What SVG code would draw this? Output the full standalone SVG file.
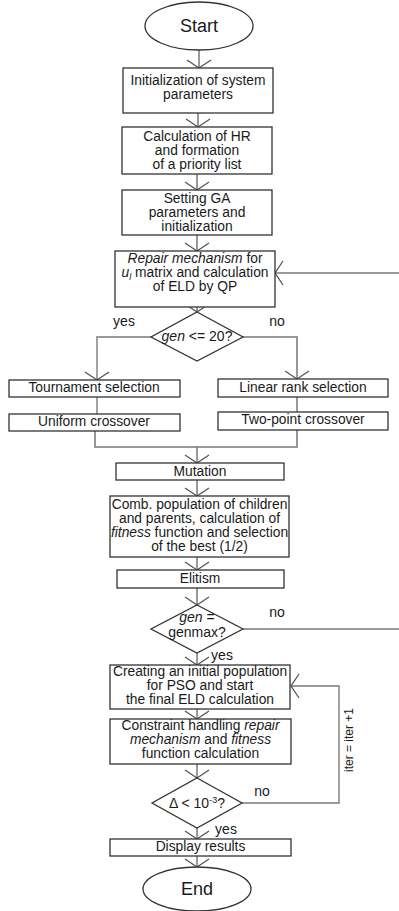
<svg xmlns="http://www.w3.org/2000/svg" width="399" height="911" viewBox="0 0 399 911">
<defs>
<marker id="arr" markerUnits="userSpaceOnUse" viewBox="-15 -15 30 30" markerWidth="30" markerHeight="30" refX="0" refY="0" orient="auto" overflow="visible">
<path d="M-8,-12 L0,0 L-8,12" fill="none" stroke="#555" stroke-width="1.3"/>
</marker>
<style>
.box{fill:#fff;stroke:#333;stroke-width:1.3}
.t{font-family:"Liberation Sans",Arial,sans-serif;font-size:13.8px;fill:#1a1a1a;text-anchor:middle}
.lb{font-family:"Liberation Sans",Arial,sans-serif;font-size:14px;fill:#1a1a1a;text-anchor:middle}
.big{font-family:"Liberation Sans",Arial,sans-serif;font-size:18px;fill:#1a1a1a;text-anchor:middle}
.c{fill:none;stroke:#777;stroke-width:1.5}
.cl{fill:none;stroke:#999;stroke-width:1.8}
.i{font-style:italic}
</style>
</defs>
<rect width="399" height="911" fill="#fff"/>
<g id="connectors">
<line class="c" x1="199" y1="50" x2="199" y2="68" marker-end="url(#arr)"/>
<line class="c" x1="198" y1="113" x2="198" y2="127" marker-end="url(#arr)"/>
<line class="c" x1="197" y1="174" x2="197" y2="190" marker-end="url(#arr)"/>
<line class="c" x1="197" y1="235" x2="197" y2="251" marker-end="url(#arr)"/>
<line class="c" x1="399" y1="273" x2="275" y2="273" marker-end="url(#arr)"/>
<line class="c" x1="197" y1="307" x2="197" y2="312" marker-end="url(#arr)"/>
<polyline class="cl" points="151,337 97,337 97,380" marker-end="url(#arr)"/>
<polyline class="c" points="243,337 297,337 297,379" marker-end="url(#arr)"/>
<line class="cl" x1="97" y1="397" x2="97" y2="414"/>
<line class="c" x1="297" y1="397" x2="297" y2="412"/>
<polyline class="c" points="95,431 95,447 297,447 297,430"/>
<line class="c" x1="197" y1="447" x2="197" y2="463" marker-end="url(#arr)"/>
<line class="c" x1="197" y1="480" x2="197" y2="496" marker-end="url(#arr)"/>
<line class="c" x1="197" y1="557" x2="197" y2="570" marker-end="url(#arr)"/>
<line class="c" x1="197" y1="588" x2="197" y2="605" marker-end="url(#arr)"/>
<line class="c" x1="243" y1="629" x2="399" y2="629"/>
<line class="c" x1="197" y1="653" x2="197" y2="665" marker-end="url(#arr)"/>
<line class="c" x1="197" y1="709" x2="197" y2="719" marker-end="url(#arr)"/>
<line class="c" x1="197" y1="764" x2="197" y2="778" marker-end="url(#arr)"/>
<polyline class="cl" points="242,803 339,803 339,686 291,686" marker-end="url(#arr)"/>
<line class="c" x1="197" y1="828" x2="197" y2="839" marker-end="url(#arr)"/>
<line class="c" x1="197" y1="856" x2="197" y2="867" marker-end="url(#arr)"/>
</g>
<g id="labels">
<text class="lb" x="124" y="326">yes</text>
<text class="lb" x="277" y="326">no</text>
<text class="lb" x="277" y="617">no</text>
<text class="lb" x="222" y="660">yes</text>
<text class="lb" x="262" y="796">no</text>
<text class="lb" x="226" y="834">yes</text>
<text class="lb" style="font-size:12px" transform="translate(353,740) rotate(-90)">iter = iter +1</text>
</g>
<g id="start"><ellipse class="box" cx="199" cy="26" rx="54" ry="24"/><text class="big" x="199" y="32">Start</text></g>
<g id="init"><rect class="box" x="123" y="68" width="150" height="45"/><text class="t" x="198" y="85">Initialization of system</text><text class="t" x="198" y="99">parameters</text></g>
<g id="calc"><rect class="box" x="122" y="127" width="150" height="47"/><text class="t" x="197" y="141">Calculation of HR</text><text class="t" x="197" y="155">and formation</text><text class="t" x="197" y="169">of a priority list</text></g>
<g id="setga"><rect class="box" x="122" y="190" width="150" height="45"/><text class="t" x="197" y="203">Setting GA</text><text class="t" x="197" y="217">parameters and</text><text class="t" x="197" y="231">initialization</text></g>
<g id="repair"><rect class="box" x="115" y="251" width="160" height="56"/><text class="t" x="195" y="263"><tspan class="i">Repair mechanism</tspan> for</text><text class="t" x="195" y="277"><tspan class="i">u</tspan><tspan class="i" font-size="9" dy="3">l</tspan><tspan dy="-3"> matrix and calculation</tspan></text><text class="t" x="195" y="291">of ELD by QP</text></g>
<g id="dec1"><polygon class="box" points="197,312 243,337 197,361 151,337"/><text class="lb" x="197" y="341"><tspan class="i">gen</tspan> &lt;= 20?</text></g>
<g id="tourn"><rect class="box" x="9" y="380" width="171" height="17"/><text class="t" x="94" y="392">Tournament selection</text></g>
<g id="linear"><rect class="box" x="218" y="379" width="170" height="18"/><text class="t" x="303" y="392">Linear rank selection</text></g>
<g id="uniform"><rect class="box" x="9" y="414" width="171" height="17"/><text class="t" x="94" y="426">Uniform crossover</text></g>
<g id="twopoint"><rect class="box" x="218" y="412" width="170" height="18"/><text class="t" x="303" y="424">Two-point crossover</text></g>
<g id="mutation"><rect class="box" x="116" y="463" width="168" height="17"/><text class="t" x="200" y="476">Mutation</text></g>
<g id="comb"><rect class="box" x="110" y="496" width="179" height="61"/><text class="t" x="199.5" y="509">Comb. population of children</text><text class="t" x="199.5" y="523">and parents, calculation of</text><text class="t" x="199.5" y="537"><tspan class="i">fitness</tspan> function and selection</text><text class="t" x="199.5" y="551">of the best (1/2)</text></g>
<g id="elitism"><rect class="box" x="117" y="570" width="167" height="18"/><text class="t" x="200" y="583">Elitism</text></g>
<g id="dec2"><polygon class="box" points="197,605 243,629 197,653 151,629"/><text class="lb" x="197" y="622"><tspan class="i">gen</tspan> =</text><text class="lb" x="197" y="637">genmax?</text></g>
<g id="creating"><rect class="box" x="110" y="665" width="180" height="44"/><text class="t" x="200" y="676">Creating an initial population</text><text class="t" x="200" y="690">for PSO and start</text><text class="t" x="200" y="704">the final ELD calculation</text></g>
<g id="constraint"><rect class="box" x="110" y="719" width="181" height="45"/><text class="t" x="200.5" y="730">Constraint handling <tspan class="i">repair</tspan></text><text class="t" x="200.5" y="744"><tspan class="i">mechanism</tspan> and <tspan class="i">fitness</tspan></text><text class="t" x="200.5" y="758">function calculation</text></g>
<g id="dec3"><polygon class="box" points="197,778 242,803 197,828 152,803"/><text class="lb" x="197" y="808">Δ &lt; 10<tspan font-size="9" dy="-5">-3</tspan><tspan dy="5">?</tspan></text></g>
<g id="display"><rect class="box" x="110" y="839" width="181" height="17"/><text class="t" x="200.5" y="851">Display results</text></g>
<g id="end"><ellipse class="box" cx="197" cy="889" rx="54" ry="22"/><text class="big" x="197" y="895">End</text></g>
</svg>
